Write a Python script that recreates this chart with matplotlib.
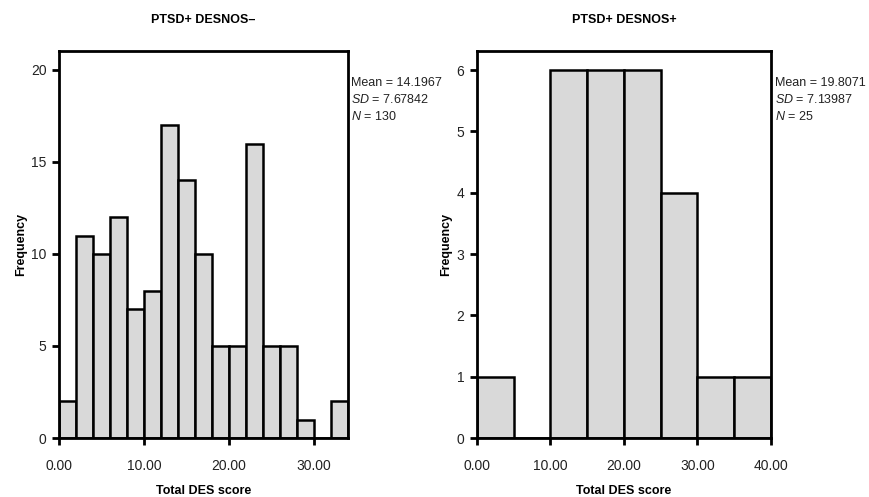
import numpy as np
import matplotlib
matplotlib.use("Agg")
import matplotlib.pyplot as plt

plt.rcParams['font.family'] = ['Liberation Sans', 'DejaVu Sans']
plt.rcParams['mathtext.fontset'] = 'custom'
plt.rcParams['mathtext.rm'] = 'Liberation Sans'
plt.rcParams['mathtext.it'] = 'Liberation Sans:italic'

# * Data

left_title = "PTSD+ DESNOS\u2013"
left_edges = np.arange(0, 36, 2)
left_counts = [2, 11, 10, 12, 7, 8, 17, 14, 10, 5, 5, 16, 5, 5, 1, 0, 2]
left_stats = ["Mean = 14.1967", r"$\it{SD}$ = 7.67842", r"$\it{N}$ = 130"]
left_xticks = [0, 10, 20, 30]
left_yticks = [0, 5, 10, 15, 20]

right_title = "PTSD+ DESNOS+"
right_edges = np.arange(0, 45, 5)
right_counts = [1, 0, 6, 6, 6, 4, 1, 1]
right_stats = ["Mean = 19.8071", r"$\it{SD}$ = 7.13987", r"$\it{N}$ = 25"]
right_xticks = [0, 10, 20, 30, 40]
right_yticks = [0, 1, 2, 3, 4, 5, 6]

fig = plt.figure(figsize=(8.7, 4.97), dpi=100)


def draw_hist(rect, edges, counts, title, stats, xticks, yticks, ytop):
    ax = fig.add_axes(rect)
    widths = np.diff(edges)
    ax.bar(edges[:-1], counts, width=widths, align='edge',
           color='#d9d9d9', edgecolor='black', linewidth=1.8)
    ax.set_xlim(edges[0], edges[-1])
    ax.set_ylim(0, ytop)
    ax.set_xticks(xticks)
    ax.set_xticklabels(["{:.2f}".format(t) for t in xticks])
    ax.set_yticks(yticks)
    for s in ax.spines.values():
        s.set_linewidth(2)
    ax.tick_params(direction='out', length=5, width=2, labelsize=10,
                   labelcolor='#222222')
    ax.tick_params(axis='x', pad=10)
    ax.tick_params(axis='y', pad=4)
    ax.set_xlabel("Total DES score", fontsize=9, fontweight='bold',
                  labelpad=9)
    ax.set_ylabel("Frequency", fontsize=9, fontweight='bold',
                  labelpad=3)
    ax.set_title(title, fontsize=9, fontweight='bold', pad=20)
    for k, line in enumerate(stats):
        ax.text(1.012, 0.918 - k * 0.044, line, transform=ax.transAxes,
                fontsize=9, va='center', ha='left', color='#222222')
    return ax


draw_hist([59 / 870, 1 - 438 / 497, 289 / 870, 387 / 497],
          left_edges, left_counts, left_title, left_stats,
          left_xticks, left_yticks, 21.03)
draw_hist([477 / 870, 1 - 438 / 497, 294 / 870, 387 / 497],
          right_edges, right_counts, right_title, right_stats,
          right_xticks, right_yticks, 6.31)

fig.savefig("out.png", dpi=100)
